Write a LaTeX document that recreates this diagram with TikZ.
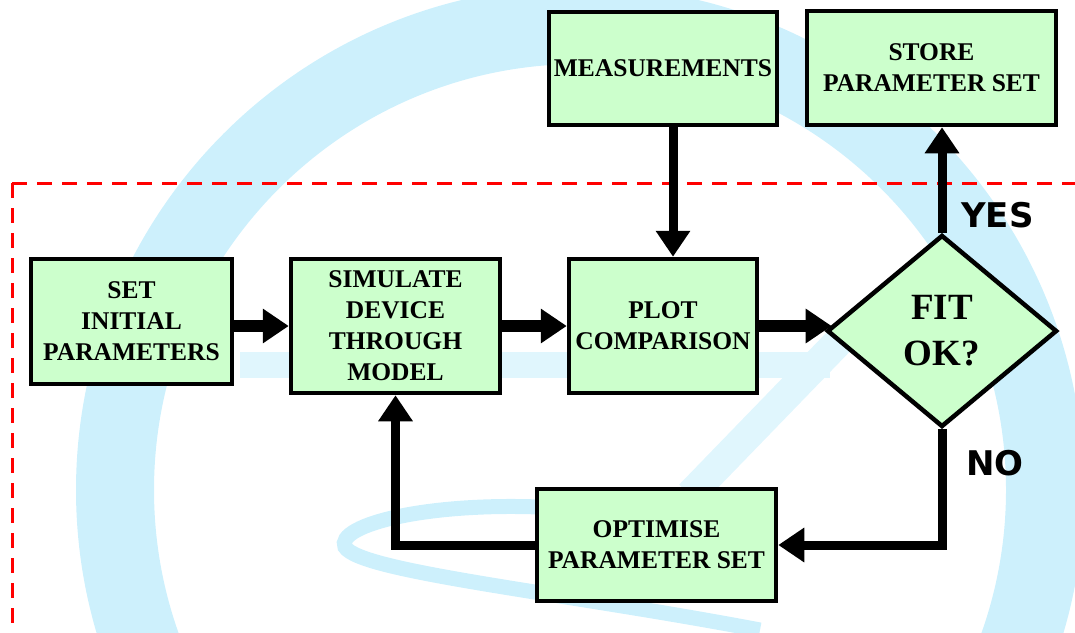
\documentclass[tikz,border=0pt]{standalone}
\usepackage{fontspec}
\setmainfont{Liberation Serif}
\newfontfamily\yesnofont{DejaVu Sans}
\usetikzlibrary{shapes.geometric,arrows.meta}
\definecolor{boxgreen}{HTML}{CCFFCC}
\definecolor{wmblue}{HTML}{CDF0FC}
\definecolor{wmfaint}{HTML}{E0F6FD}
\begin{document}
\begin{tikzpicture}[x=1pt,y=-1pt,
  box/.style={draw=black,line width=4.5pt,fill=boxgreen,inner sep=0pt,align=center,
    font=\fontsize{25.5}{31}\selectfont\bfseries},
  decision/.style={diamond,draw=black,line width=4.5pt,fill=boxgreen,inner sep=0pt,align=center,
    font=\fontsize{37}{46}\selectfont\bfseries},
  flow/.style={line width=9pt,-{Triangle[width=33pt,length=26pt]}},
  mainflow/.style={line width=12pt,-{Triangle[width=33pt,length=26pt]}},
  lbl/.style={inner sep=0pt,font=\yesnofont\fontsize{34}{40}\selectfont\bfseries},
  region/.style={red,line width=3pt,dash pattern=on 15pt off 10pt}]
\useasboundingbox (0,0) rectangle (1075,632);
% faint watermark
\begin{scope}
  \clip (0,0) rectangle (1075,632);
  \draw[wmblue,line width=78pt] (580,490) circle (465pt);
  \fill[wmfaint] (240,352) rectangle (830,378);
  \draw[wmfaint,line width=30pt] (690,495) -- (845,335);
  \draw[wmblue,line width=15pt] (560,508) .. controls (430,500) and (335,525) .. (345,547)
     .. controls (360,572) and (560,592) .. (760,630);
\end{scope}
% dashed region
\coordinate (corner) at (12,183);
\coordinate (rightend) at (1075,183);
\coordinate (bottomend) at (12,632);
\draw[region] (corner) -- (rightend);
\draw[region] (corner) -- (bottomend);
% nodes
\node[box,minimum width=201pt,minimum height=125pt] (set) at (131.5,321.5) {SET\\INITIAL\\PARAMETERS};
\node[box,minimum width=209pt,minimum height=134pt] (sim) at (395.5,326) {SIMULATE\\DEVICE\\THROUGH\\MODEL};
\node[box,minimum width=188pt,minimum height=134pt] (plot) at (663,326) {PLOT\\COMPARISON};
\node[box,minimum width=228pt,minimum height=113pt] (meas) at (663,68.5) {MEASUREMENTS};
\node[box,minimum width=249pt,minimum height=114pt] (store) at (931.5,68) {STORE\\PARAMETER SET};
\node[box,minimum width=239pt,minimum height=112pt] (opt) at (656.5,545) {OPTIMISE\\PARAMETER SET};
\node[decision,minimum width=230pt,minimum height=192pt] (fit) at (942,331) {FIT\\OK?};
% connectors
\draw[mainflow] (set.east |- sim.west) -- (sim.west);
\draw[mainflow] (sim.east) -- (plot.west);
\draw[mainflow] (plot.east) -- (plot.east -| fit.177.4);
\draw[flow] ([xshift=10pt]meas.south) -- ([xshift=10pt]plot.north);
\draw[flow] (fit.north) -- (fit.north |- store.south);
\draw[flow] (fit.south) |- (opt.east);
\draw[flow] (opt.west) -| (sim.south);
% labels
\node[lbl,anchor=base west] (yes) at (961,227) {YES};
\node[lbl,anchor=base west] (no) at (966,475) {NO};
\end{tikzpicture}
\end{document}
